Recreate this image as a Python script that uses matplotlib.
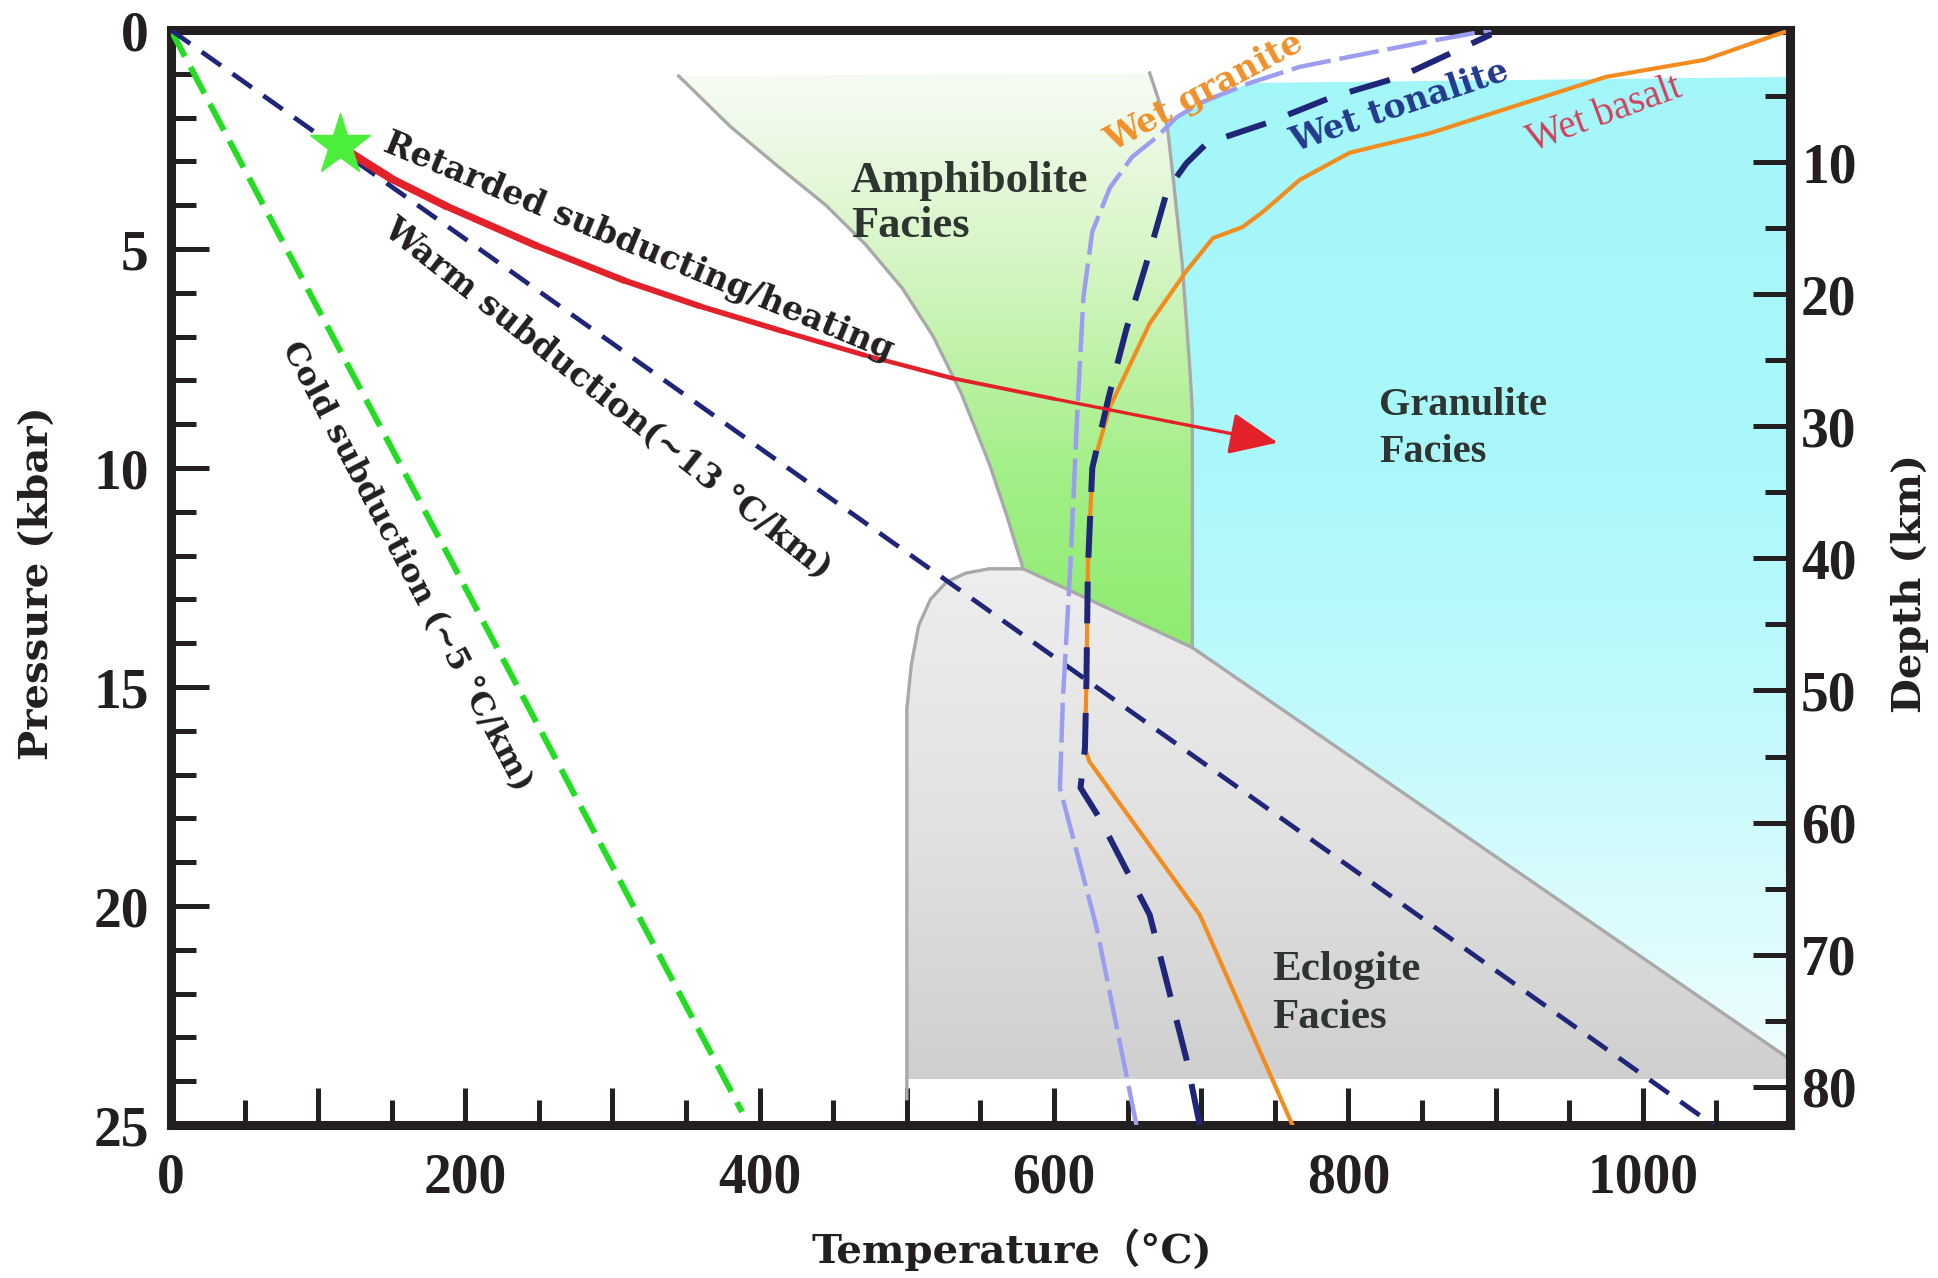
import numpy as np
import matplotlib
matplotlib.use('Agg')
import matplotlib.pyplot as plt
from matplotlib.patches import Polygon
from matplotlib.collections import LineCollection
from matplotlib.colors import to_rgb
from matplotlib.ticker import MultipleLocator, FixedLocator, FuncFormatter

# --- data: T in deg C, P in kbar ---
cold_T = [0, 388]
cold_P = [0, 24.7]
warm_T = [0, 1048]
warm_P = [0, 25]

star_T, star_P = 115, 2.63
path_T = [118, 150, 187, 248, 308, 359, 416, 471, 531, 600, 680]
path_P = [2.72, 3.4, 4.02, 4.92, 5.72, 6.3, 6.88, 7.42, 7.95, 8.42, 8.95]
tip_T, tip_P = 752, 9.42

granite_T = [656, 629, 604, 606, 611, 616, 620, 626, 638, 653, 670, 683, 699, 733, 767, 801, 848, 897]
granite_P = [25, 20.5, 17.3, 15.3, 12.3, 8.6, 6.1, 4.6, 3.6, 2.9, 2.44, 2.0, 1.67, 1.21, 0.84, 0.61, 0.3, 0.0]
tonalite_T = [699, 690, 665, 631, 618, 621, 622, 623, 626, 637, 649, 663, 677, 690, 704, 745, 789, 835, 897]
tonalite_P = [25, 23.5, 20.2, 18.0, 17.3, 16.4, 14.9, 12.3, 10.0, 8.4, 6.85, 5.3, 3.65, 3.04, 2.58, 2.12, 1.53, 1.07, 0.1]
basalt_T = [762, 699, 624, 621, 622, 623, 626, 638, 665, 690, 708, 728, 742, 767, 801, 855, 975, 1042, 1100]
basalt_P = [25, 20.2, 16.7, 16.4, 14.9, 12.3, 10.0, 8.6, 6.7, 5.5, 4.75, 4.5, 4.15, 3.42, 2.8, 2.36, 1.07, 0.68, 0.0]

# facies boundaries
amph_left_T = [345, 380, 412, 445, 472, 497, 518, 537, 556, 568, 579]
amph_left_P = [1.05, 2.2, 3.1, 4.0, 4.9, 5.9, 7.0, 8.3, 9.9, 11.1, 12.3]
amph_right_T = [665, 677, 681, 687, 692, 694, 694]
amph_right_P = [0.98, 2.2, 3.4, 5.3, 7.6, 8.7, 14.1]
ecl_T = [500, 500, 503, 508, 516, 527, 540, 556, 579, 694, 1100]
ecl_P = [24.4, 15.5, 14.5, 13.6, 13.0, 12.6, 12.4, 12.3, 12.3, 14.1, 23.5]
ecl_base_P = 23.95
gran_top_T = [677, 699, 733, 1100]
gran_top_P = [2.2, 1.67, 1.21, 1.07]

x_major = list(range(0, 1101, 100))
x_labelled = [0, 200, 400, 600, 800, 1000]
depth_major = [10, 20, 30, 40, 50, 60, 70, 80]
depth_minor = [5, 15, 25, 35, 45, 55, 65, 75]

plt.rcParams['font.family'] = 'Liberation Serif'
plt.rcParams['font.weight'] = 'bold'

INK = '#231f20'
NAVY = '#1f2579'


def gradient_fill(ax, xs, ys, stops, z):
    poly = Polygon(np.column_stack([xs, ys]), closed=True, facecolor='none', edgecolor='none')
    ax.add_patch(poly)
    pp = np.linspace(0, 25, 400)
    sp = [s[0] for s in stops]
    cols = np.array([np.interp(pp, sp, [to_rgb(s[1])[i] for s in stops]) for i in range(3)]).T
    img = ax.imshow(cols[:, None, :], extent=[0, 1100, 25, 0], origin='upper',
                    aspect='auto', zorder=z, interpolation='bilinear')
    img.set_clip_path(poly)


fig = plt.figure(figsize=(19.38, 12.78), dpi=100)
ax = fig.add_axes([0.0882, 0.1197, 0.8354, 0.8568])

# amphibolite (green)
amph_xs = amph_left_T + [694] + amph_right_T[::-1]
amph_ys = amph_left_P + [14.1] + amph_right_P[::-1]
gradient_fill(ax, amph_xs, amph_ys,
              [(0, '#fdfefc'), (2, '#f0faea'), (6, '#cff4bb'), (10, '#a4ef88'), (14, '#8eec70')], 1)

# granulite (cyan)
gran_xs = gran_top_T + [1100, 694] + amph_right_T[1:][::-1]
gran_ys = gran_top_P + [23.5, 14.1] + amph_right_P[1:][::-1]
gradient_fill(ax, gran_xs, gran_ys,
              [(0, '#a3f6f8'), (10, '#aaf8fa'), (17, '#c8fafc'), (23.5, '#eefdfe')], 1)

# eclogite (grey)
ecl_xs = [500] + ecl_T[1:] + [1100]
ecl_ys = [ecl_base_P] + ecl_P[1:] + [ecl_base_P]
gradient_fill(ax, ecl_xs, ecl_ys, [(12, '#eeeeee'), (18, '#e2e2e2'), (24, '#cfcfcf')], 1)

# facies outlines
ax.plot(amph_left_T, amph_left_P, color='#a9a9a9', lw=2.4, zorder=2)
ax.plot(amph_right_T, amph_right_P, color='#a9a9a9', lw=2.4, zorder=2)
ax.plot(ecl_T, ecl_P, color='#a9a9a9', lw=2.4, zorder=2)

# geotherms
ax.plot(cold_T, cold_P, color='#22dd22', lw=4.3, dashes=(5, 2), zorder=3)
ax.plot(warm_T, warm_P, color=NAVY, lw=3.4, dashes=(5, 3), zorder=3)

# wet solidi
ax.plot(basalt_T, basalt_P, color='#f28c1e', lw=3.0, zorder=4)
ax.plot(granite_T, granite_P, color='#9c9df0', lw=3.2, dashes=(9, 2), zorder=4)
ax.plot(tonalite_T, tonalite_P, color=NAVY, lw=4.3, dashes=(7, 4), zorder=4)

# retarded path, tapering red line
pts = np.column_stack([path_T, path_P])
segs = np.stack([pts[:-1], pts[1:]], axis=1)
lc = LineCollection(segs, colors='#e3212b', linewidths=np.linspace(6.0, 2.4, len(segs)),
                    capstyle='round', joinstyle='round', zorder=5)
ax.add_collection(lc)
ax.annotate('', xy=(tip_T, tip_P), xytext=(path_T[-1], path_P[-1]),
            arrowprops=dict(arrowstyle='-|>,head_length=1.5,head_width=0.65', mutation_scale=20,
                            color='#e3212b', lw=2.4, shrinkA=0, shrinkB=0), zorder=5)
ax.plot([star_T], [star_P], marker='*', ms=46, color='#4cee3c', mec='#4cee3c', zorder=6)

# labels on the curves
curve_font = dict(family='DejaVu Serif', fontweight='bold', color=INK,
                  ha='center', va='center', rotation_mode='anchor', zorder=7)
ax.text(318, 4.95, 'Retarded subducting/heating', rotation=-22.5, fontsize=24, **curve_font)
ax.text(297, 8.4, 'Warm subduction(~13 °C/km)', rotation=-38.3, fontsize=24, **curve_font)
ax.text(160, 12.25, 'Cold subduction (~5 °C/km)', rotation=-62.2, fontsize=23, **curve_font)

ax.text(702, 1.42, 'Wet granite', rotation=28, fontsize=24, color='#f0902a',
        family='DejaVu Serif', fontweight='bold',
        ha='center', va='center', rotation_mode='anchor', zorder=7)
ax.text(835, 1.75, 'Wet tonalite', rotation=18.6, fontsize=24, color='#233a8c',
        family='DejaVu Serif', fontweight='bold',
        ha='center', va='center', rotation_mode='anchor', zorder=7)
ax.text(974, 1.92, 'Wet basalt', rotation=20, fontsize=28, color='#d0415a', fontweight='normal',
        ha='center', va='center', rotation_mode='anchor', zorder=7)

facies_font = dict(color='#2e3531', ha='left', va='baseline', zorder=7)
ax.text(462, 3.70, 'Amphibolite', fontsize=32, **facies_font)
ax.text(462, 4.73, 'Facies', fontsize=32, **facies_font)
ax.text(821, 8.79, 'Granulite', fontsize=29, **facies_font)
ax.text(821, 9.86, 'Facies', fontsize=29, **facies_font)
ax.text(748, 21.69, 'Eclogite', fontsize=31, **facies_font)
ax.text(748, 22.79, 'Facies', fontsize=31, **facies_font)

# axes, ticks
ax.set_xlim(0, 1100)
ax.set_ylim(25, 0)
ax.xaxis.set_major_locator(FixedLocator(x_major))
ax.xaxis.set_minor_locator(MultipleLocator(50))
ax.xaxis.set_major_formatter(FuncFormatter(lambda v, p: '%d' % v if int(v) in x_labelled else ''))
ax.yaxis.set_major_locator(MultipleLocator(5))
ax.yaxis.set_minor_locator(MultipleLocator(1))
ax.tick_params(which='major', direction='in', length=27, width=3.6, color=INK,
               labelsize=40, labelcolor=INK)
ax.tick_params(which='minor', direction='in', length=18, width=3.6, color=INK)
ax.tick_params(axis='x', which='major', pad=20)
ax.tick_params(axis='y', which='major', pad=16)
for s in ax.spines.values():
    s.set_linewidth(6.5)
    s.set_color(INK)

ax2 = ax.twinx()
ax2.set_ylim(82.9, 0)
ax2.yaxis.set_major_locator(FixedLocator(depth_major))
ax2.yaxis.set_minor_locator(FixedLocator(depth_minor))
ax2.tick_params(which='major', direction='in', length=27, width=3.6, color=INK,
                labelsize=40, labelcolor=INK, pad=8)
ax2.tick_params(which='minor', direction='in', length=18, width=3.6, color=INK)
for name, s in ax2.spines.items():
    s.set_linewidth(6.5)
    s.set_color(INK)
    s.set_visible(name == 'right')

lab_font = dict(family=['DejaVu Serif', 'Noto Sans CJK SC'], fontweight='bold', fontsize=29, color=INK,
                ha='center', va='center')
fig.text(37 / 1938, 1 - 583 / 1278, 'Pressure (kbar)', rotation=90, **lab_font)
fig.text(1910 / 1938, 1 - 583 / 1278, 'Depth (km)', rotation=90, **lab_font)
fig.text(1012 / 1938, 1 - 1250 / 1278, 'Temperature（°C)', **lab_font)

fig.savefig('out.png', dpi=100)
